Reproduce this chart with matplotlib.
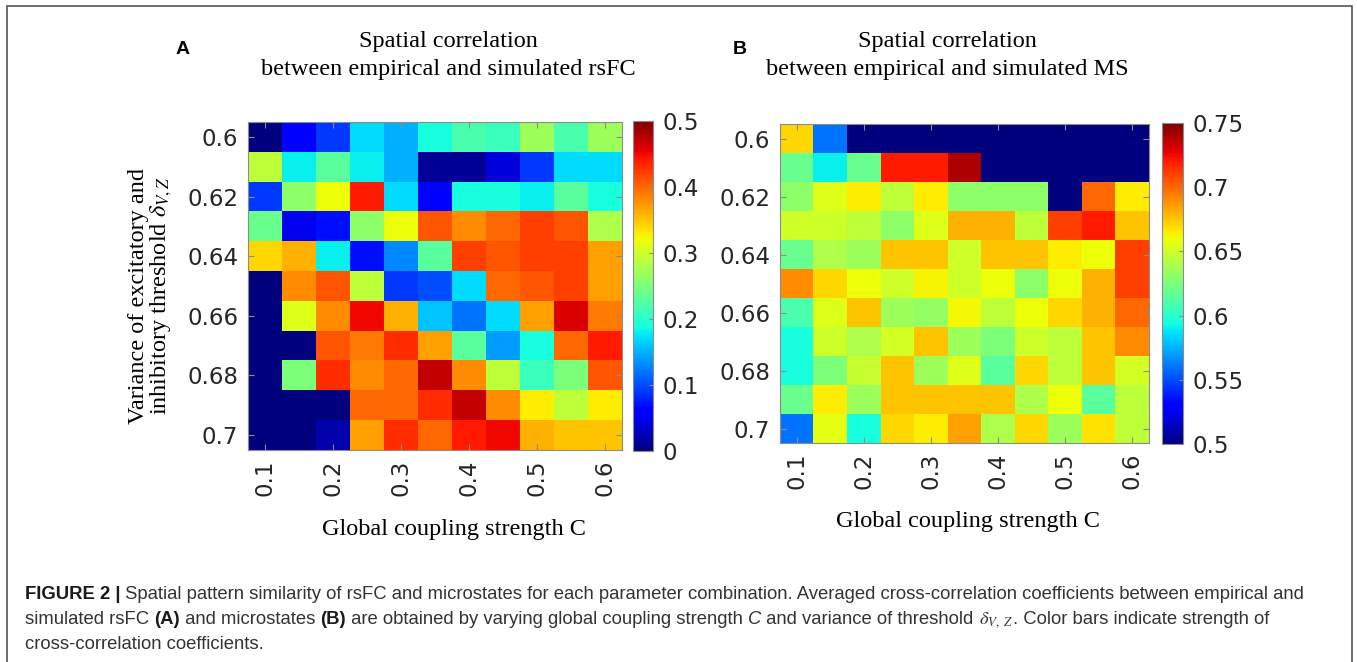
import numpy as np
import matplotlib
matplotlib.use("Agg")
import matplotlib.pyplot as plt
from matplotlib.patches import Rectangle

plt.rcParams["mathtext.fontset"] = "stix"

# grid values
coupling = [0.1, 0.15, 0.2, 0.25, 0.3, 0.35, 0.4, 0.45, 0.5, 0.55, 0.6]
variance = [0.6, 0.61, 0.62, 0.63, 0.64, 0.65, 0.66, 0.67, 0.68, 0.69, 0.7]
xtick_vals = [0.1, 0.2, 0.3, 0.4, 0.5, 0.6]
ytick_vals = [0.6, 0.62, 0.64, 0.66, 0.68, 0.7]
ytick_labels = ["0.6", "0.62", "0.64", "0.66", "0.68", "0.7"]

# (A) rsFC correlation, rows = variance 0.6 .. 0.7
rsfc = [
    [0.00, 0.06, 0.09, 0.17, 0.15, 0.19, 0.22, 0.21, 0.27, 0.22, 0.27],
    [0.29, 0.18, 0.23, 0.18, 0.15, 0.01, 0.01, 0.04, 0.09, 0.17, 0.17],
    [0.09, 0.26, 0.32, 0.44, 0.17, 0.06, 0.19, 0.19, 0.18, 0.23, 0.19],
    [0.24, 0.05, 0.07, 0.26, 0.32, 0.41, 0.38, 0.40, 0.42, 0.41, 0.28],
    [0.34, 0.36, 0.18, 0.07, 0.13, 0.23, 0.42, 0.41, 0.42, 0.42, 0.37],
    [0.00, 0.38, 0.41, 0.29, 0.09, 0.10, 0.17, 0.40, 0.41, 0.42, 0.37],
    [0.00, 0.31, 0.38, 0.45, 0.36, 0.16, 0.12, 0.17, 0.37, 0.46, 0.39],
    [0.00, 0.00, 0.41, 0.39, 0.43, 0.37, 0.23, 0.14, 0.19, 0.40, 0.44],
    [0.00, 0.25, 0.43, 0.38, 0.40, 0.47, 0.38, 0.29, 0.21, 0.25, 0.41],
    [0.00, 0.00, 0.00, 0.40, 0.40, 0.43, 0.47, 0.38, 0.33, 0.29, 0.33],
    [0.00, 0.00, 0.02, 0.37, 0.43, 0.40, 0.44, 0.45, 0.36, 0.35, 0.35],
]

# (B) microstate correlation
ms = [
    [0.670, 0.560, 0.500, 0.500, 0.500, 0.500, 0.500, 0.500, 0.500, 0.500, 0.500],
    [0.620, 0.590, 0.620, 0.720, 0.720, 0.740, 0.500, 0.500, 0.500, 0.500, 0.500],
    [0.630, 0.655, 0.665, 0.645, 0.665, 0.630, 0.630, 0.630, 0.500, 0.700, 0.665],
    [0.650, 0.650, 0.645, 0.630, 0.655, 0.680, 0.680, 0.645, 0.710, 0.720, 0.675],
    [0.620, 0.640, 0.635, 0.675, 0.675, 0.650, 0.675, 0.675, 0.665, 0.660, 0.710],
    [0.690, 0.670, 0.660, 0.650, 0.663, 0.650, 0.660, 0.630, 0.660, 0.680, 0.710],
    [0.610, 0.655, 0.675, 0.635, 0.632, 0.662, 0.645, 0.660, 0.670, 0.680, 0.700],
    [0.595, 0.650, 0.640, 0.652, 0.675, 0.635, 0.625, 0.650, 0.645, 0.675, 0.690],
    [0.595, 0.625, 0.648, 0.675, 0.635, 0.655, 0.615, 0.670, 0.645, 0.675, 0.652],
    [0.620, 0.665, 0.635, 0.675, 0.675, 0.675, 0.675, 0.640, 0.660, 0.615, 0.645],
    [0.560, 0.657, 0.595, 0.670, 0.665, 0.685, 0.640, 0.670, 0.635, 0.667, 0.645],
]

W, H = 1357, 662
fig = plt.figure(figsize=(W / 100, H / 100), dpi=100)

def px(x0, y0, x1, y1):
    # pixel box -> figure fraction
    return [x0 / W, 1 - y1 / H, (x1 - x0) / W, (y1 - y0) / H]

serif = "Liberation Serif"
serif_size = 17.5
tick_font = 16.5
edge = "#8c8c8c"

def heat(ax_box, cb_box, data, vmin, vmax, cticks, clabels):
    ax = fig.add_axes(px(*ax_box))
    dx = (coupling[1] - coupling[0]) / 2
    dy = (variance[1] - variance[0]) / 2
    im = ax.imshow(np.array(data), cmap="jet", vmin=vmin, vmax=vmax,
                   extent=[coupling[0] - dx, coupling[-1] + dx,
                           variance[-1] + dy, variance[0] - dy],
                   aspect="auto", interpolation="nearest")
    ax.set_xticks(xtick_vals)
    ax.set_xticklabels([str(v) for v in xtick_vals], rotation=90)
    ax.set_yticks(ytick_vals)
    ax.set_yticklabels(ytick_labels)
    ax.tick_params(direction="in", length=4, color=edge, labelsize=tick_font,
                   labelcolor="#262626", top=True, right=True, pad=7)
    for s in ax.spines.values():
        s.set_color(edge)
        s.set_linewidth(0.8)
    cax = fig.add_axes(px(*cb_box))
    cb = fig.colorbar(im, cax=cax, ticks=cticks)
    cb.ax.set_yticklabels(clabels)
    cb.ax.tick_params(direction="in", length=3, color=edge, labelsize=tick_font,
                      labelcolor="#262626", pad=7)
    cb.outline.set_edgecolor(edge)
    cb.outline.set_linewidth(0.8)
    return ax

axA = heat((248, 122, 622, 450), (633, 121, 653, 451), rsfc, 0, 0.5,
           [0, 0.1, 0.2, 0.3, 0.4, 0.5], ["0", "0.1", "0.2", "0.3", "0.4", "0.5"])
axB = heat((780, 124, 1149, 443), (1162, 123, 1183, 444), ms, 0.5, 0.75,
           [0.5, 0.55, 0.6, 0.65, 0.7, 0.75], ["0.5", "0.55", "0.6", "0.65", "0.7", "0.75"])

# titles and labels
for cx, title in [(448, "between empirical and simulated rsFC"),
                  (947, "between empirical and simulated MS")]:
    fig.text(cx / W, 1 - 42 / H, "Spatial correlation", ha="center", va="center",
             family=serif, fontsize=serif_size)
    fig.text(cx / W, 1 - 70 / H, title, ha="center", va="center",
             family=serif, fontsize=serif_size)

fig.text(183 / W, 1 - 50 / H, "A", ha="center", va="center",
         family="Liberation Sans", weight="bold", fontsize=14)
fig.text(740 / W, 1 - 50 / H, "B", ha="center", va="center",
         family="Liberation Sans", weight="bold", fontsize=14)

fig.text(454 / W, 1 - 530 / H, "Global coupling strength C", ha="center", va="center",
         family=serif, fontsize=serif_size)
fig.text(968 / W, 1 - 521 / H, "Global coupling strength C", ha="center", va="center",
         family=serif, fontsize=serif_size)

fig.text(151 / W, 1 - 296 / H,
         "Variance of excitatory and\ninhibitory threshold $\\delta_{V,Z}$",
         ha="center", va="center", rotation=90, family=serif, fontsize=serif_size,
         linespacing=1.0)

# outer frame
fig.add_artist(Rectangle((7 / W, -0.05), (1352 - 7) / W, 1.05 - 6 / H,
                         transform=fig.transFigure, fill=False,
                         edgecolor="#555555", linewidth=1.2))

# caption, laid out run by run so bold / italic pieces sit on one baseline
cap_font = "Liberation Sans"
cap_size = 13.3
cap_color = "#333333"
renderer = fig.canvas.get_renderer()

def caption(pieces, y):
    x = 25
    for txt, style in pieces:
        t = fig.text(x / W, 1 - y / H, txt, ha="left", va="baseline",
                     family=cap_font, fontsize=cap_size,
                     weight="bold" if style == "b" else "normal",
                     style="italic" if style == "i" else "normal",
                     color="#1a1a1a" if style == "b" else cap_color)
        x = t.get_window_extent(renderer).x1

caption([("FIGURE 2 |", "b"),
         (" Spatial pattern similarity of rsFC and microstates for each parameter "
          "combination. Averaged cross-correlation coefficients between empirical and", "")],
        599)
caption([("simulated rsFC ", ""), ("(A)", "b"), (" and microstates ", ""), ("(B)", "b"),
         (" are obtained by varying global coupling strength ", ""), ("C", "i"),
         (" and variance of threshold ", ""), ("$\\delta_{V,\\ Z}$", "i"),
         (". Color bars indicate strength of", "")], 624)
caption([("cross-correlation coefficients.", "")], 649)

fig.savefig("out.png", dpi=100)
